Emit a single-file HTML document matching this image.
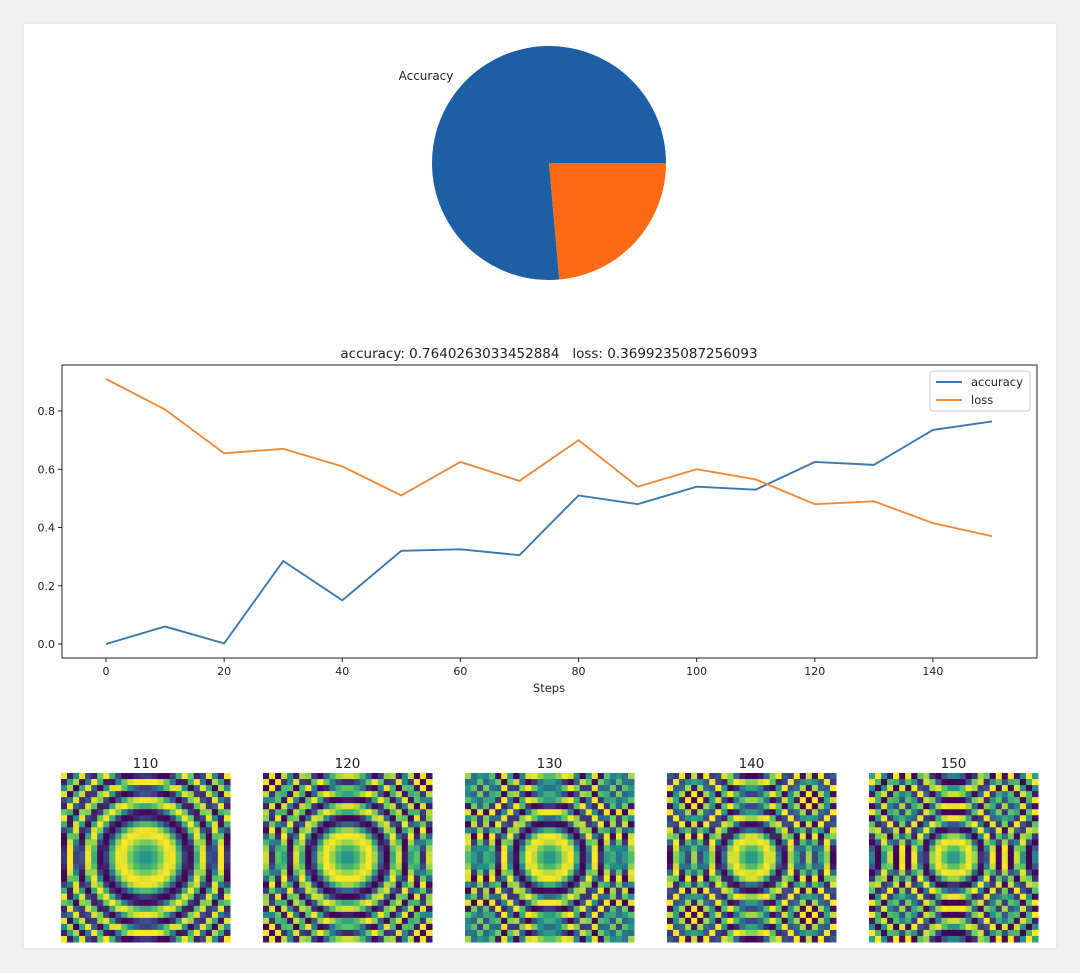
<!DOCTYPE html>
<html><head><meta charset="utf-8"><style>
body{margin:0;width:1080px;height:973px;background:#f2f2f2;font-family:"Liberation Sans","DejaVu Sans",sans-serif;overflow:hidden}
#card{position:absolute;left:24px;top:24px;width:1032px;height:924px;background:#fff;box-shadow:0 0 6px rgba(0,0,0,.08)}
svg text{font-family:"DejaVu Sans","Liberation Sans",sans-serif;white-space:pre}
</style></head><body>
<div id="card"></div>
<svg id="s" width="1080" height="973" style="position:absolute;left:0;top:0"></svg>
<script>
const pieLabels=["Accuracy",""];
const pieValues=[0.764,0.236];
const finalAccuracy="0.7640263033452884";
const finalLoss="0.3699235087256093";
const steps=[0,10,20,30,40,50,60,70,80,90,100,110,120,130,140,150];
const accuracy=[0,0.06,0.002,0.285,0.15,0.32,0.325,0.305,0.51,0.48,0.54,0.53,0.625,0.615,0.735,0.764];
const loss=[0.91,0.805,0.655,0.67,0.61,0.51,0.625,0.56,0.70,0.54,0.60,0.565,0.48,0.49,0.415,0.37];
const xTicks=[0,20,40,60,80,100,120,140];
const yTicks=[0.0,0.2,0.4,0.6,0.8];
const imgTitles=["110","120","130","140","150"];

const NS="http://www.w3.org/2000/svg",s=document.getElementById('s');
function el(t,a,p){const e=document.createElementNS(NS,t);for(const k in a)e.setAttribute(k,a[k]);(p||s).appendChild(e);return e;}
function tx(x,y,str,a){const e=el('text',Object.assign({x:x,y:y,'font-size':12,fill:'#222'},a||{}));e.textContent=str;return e;}

// pie
const cx=549,cy=163,R=117;
const tot=pieValues[0]+pieValues[1];
const accFrac=pieValues[0]/tot;
const a0=0,a1=-accFrac*2*Math.PI;
function arc(sa,ea,col,name){
  const x1=cx+R*Math.cos(sa),y1=cy+R*Math.sin(sa),x2=cx+R*Math.cos(ea),y2=cy+R*Math.sin(ea);
  const large=Math.abs(ea-sa)>Math.PI?1:0, sweep=ea>sa?1:0;
  const p=el('path',{d:`M${cx},${cy}L${x1},${y1}A${R},${R} 0 ${large} ${sweep} ${x2},${y2}Z`,fill:col});
  
  
}
arc(a0,a1,'#1d5fa4','pie-slice-accuracy');
arc(a1,a1-(1-accFrac)*2*Math.PI,'#fd6a15','pie-slice-loss');
const lbl=tx(426,80,pieLabels[0],{'text-anchor':'middle'});



// line chart
const L=62,T=365,Rr=1037,B=658;
const X=v=>106+(v-0)*(992-106)/150;
const Y=v=>644-v*(644-411)/0.8;
const box=el('rect',{x:L,y:T,width:Rr-L,height:B-T,fill:'none',stroke:'#222','stroke-width':1});


const ttl=tx(549,358,'accuracy: '+finalAccuracy+'   loss: '+finalLoss,{'text-anchor':'middle','font-size':13.5});


xTicks.forEach(v=>{el('line',{x1:X(v),x2:X(v),y1:B,y2:B+4,stroke:'#222'});
  const t=tx(X(v),B+17,String(v),{'text-anchor':'middle','font-size':11});
  
  });
yTicks.forEach(v=>{el('line',{x1:L-4,x2:L,y1:Y(v),y2:Y(v),stroke:'#222'});
  const t=tx(L-7,Y(v)+4,v.toFixed(1),{'text-anchor':'end','font-size':11});
  
  });
const xt=tx(549,692,'Steps',{'text-anchor':'middle','font-size':11.5});


function line(vals,col,name){const p=el('polyline',{points:steps.map((st,i)=>X(st)+','+Y(vals[i])).join(' '),fill:'none',stroke:col,'stroke-width':1.9});
  
  }
line(accuracy,'#3b78b0','accuracy-line');
line(loss,'#f08a3a','loss-line');
const lg=el('rect',{x:930,y:371,width:100,height:40,fill:'#fff',stroke:'#ccc',rx:3});


el('line',{x1:936,x2:962,y1:382,y2:382,stroke:'#3b78b0','stroke-width':2});
el('line',{x1:936,x2:962,y1:400,y2:400,stroke:'#f08a3a','stroke-width':2});
let le=tx(971,386,'accuracy',{'font-size':11.5});


le=tx(971,404,'loss',{'font-size':11.5});



// images
const vir=[[68,1,84],[59,82,139],[33,145,140],[94,201,98],[253,231,37]];
function vcol(t){t=Math.max(0,Math.min(1,t));const f=t*4,i=Math.min(3,Math.floor(f)),r=f-i;const a=vir[i],b=vir[i+1];
  return `rgb(${Math.round(a[0]+(b[0]-a[0])*r)},${Math.round(a[1]+(b[1]-a[1])*r)},${Math.round(a[2]+(b[2]-a[2])*r)})`;}
const lefts=[61,263,465,667,869],N=28,S=169,top0=773;
imgTitles.forEach((tt,k)=>{
  const t=tx(lefts[k]+S/2,768,tt,{'text-anchor':'middle','font-size':13.5});
  
  
  const g=el('g',{});
  
  
  const kk=0.09+k*0.025,c=S/N;
  for(let i=0;i<N;i++)for(let j=0;j<N;j++){
    const x=i-13.5,y=j-13.5;const v=0.5+0.5*Math.sin(kk*(x*x+y*y));
    el('rect',{x:(lefts[k]+i*c).toFixed(2),y:(top0+j*c).toFixed(2),width:(c+0.5).toFixed(2),height:(c+0.5).toFixed(2),fill:vcol(v)},g);
  }
});
</script>
</body></html>
